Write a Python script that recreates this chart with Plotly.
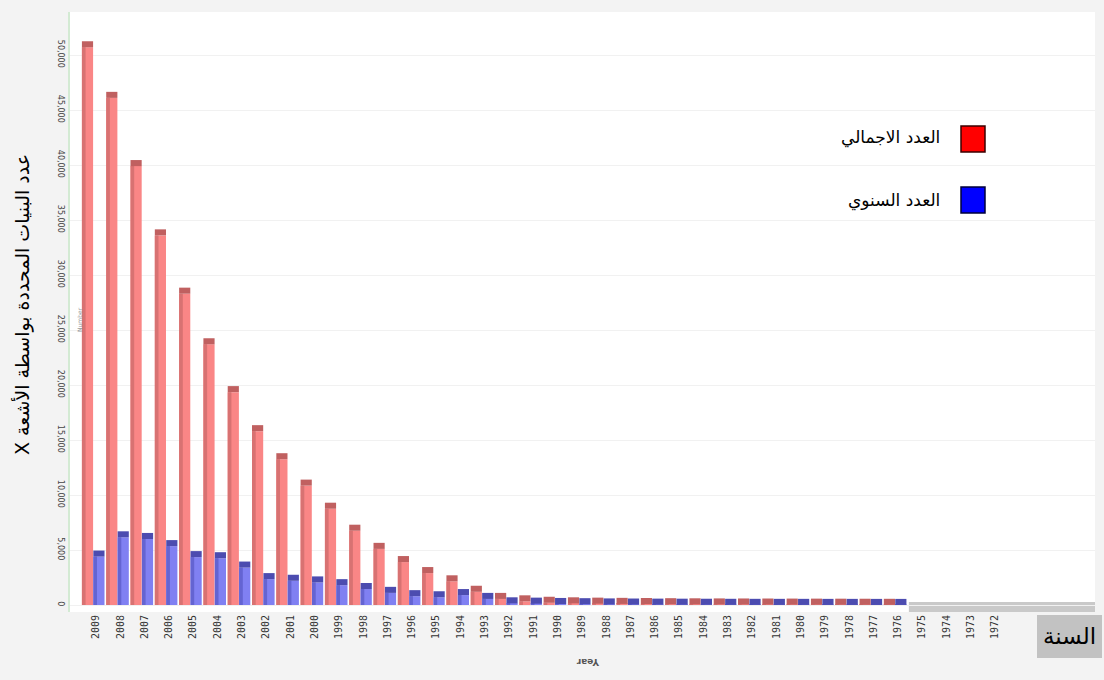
import plotly.graph_objects as go

# Protein structures solved by X-ray crystallography, per year (newest first)
years = ["2009", "2008", "2007", "2006", "2005", "2004", "2003", "2002", "2001", "2000",
         "1999", "1998", "1997", "1996", "1995", "1994", "1993", "1992", "1991", "1990",
         "1989", "1988", "1987", "1986", "1985", "1984", "1983", "1982", "1981", "1980",
         "1979", "1978", "1977", "1976", "1975", "1974", "1973", "1972"]

# cumulative total (red)
total_count = [50700, 46100, 39900, 33600, 28300, 23700, 19350, 15800, 13250, 10850,
               8750, 6750, 5100, 3900, 2900, 2150, 1200, 550, 330, 200,
               150, 120, 100, 85, 70, 60, 50, 45, 40, 35,
               30, 25, 20, 15, 0, 0, 0, 0]

# structures added in that year (blue)
annual_count = [4400, 6150, 6000, 5350, 4350, 4250, 3400, 2350, 2200, 2050,
                1800, 1450, 1100, 800, 700, 900, 550, 150, 120, 90,
                70, 50, 40, 30, 25, 20, 15, 12, 10, 10,
                8, 8, 6, 5, 0, 0, 0, 0]

y_ticks = [0, 5000, 10000, 15000, 20000, 25000, 30000, 35000, 40000, 45000, 50000]

legend_total = "العدد الاجمالي"
legend_annual = "العدد السنوي"
# right-to-left embedding so the Latin "X" ends the line on the left
y_title = "\u202bعدد البنيات المحددة بواسطة الأشعة X\u202c"
x_title = "السنة"

CAP = 550  # depth of the darker bar top, in axis units
ARABIC = "DejaVu Sans"

fig = go.Figure()


def add_series(values, offset, width, face, side, top, name):
    # front face
    fig.add_bar(x=years, y=values, offset=offset, width=width, name=name,
                marker=dict(color=face, line=dict(width=0)), showlegend=False)
    # darker left side of each bar
    fig.add_bar(x=years, y=values, offset=offset, width=width * 0.33,
                marker=dict(color=side, line=dict(width=0)),
                showlegend=False, hoverinfo="skip")
    # darker cap sitting on top of each bar
    caps = [CAP if v > 0 else 0 for v in values]
    fig.add_bar(x=years, y=caps, base=values, offset=offset, width=width,
                marker=dict(color=top, line=dict(width=0)),
                showlegend=False, hoverinfo="skip")


add_series(total_count, -0.58, 0.46, "#fa8686", "#d87272", "#c06060", legend_total)
add_series(annual_count, -0.11, 0.46, "#8080f2", "#6464d2", "#4c4cb0", legend_annual)


def px_x(p):
    return (p - 70) / 1025


def px_y(p):
    return (612 - p) / 600


shapes = [
    # floor strip to the right of the last bars
    dict(type="rect", xref="x", yref="y", x0=33.45, x1=41.11, y0=-636, y1=280,
         fillcolor="#c9c9c9", line=dict(width=0), layer="below"),
    # legend swatches
    dict(type="rect", xref="paper", yref="paper",
         x0=px_x(961), x1=px_x(985), y0=px_y(152), y1=px_y(126),
         fillcolor="#ff0000", line=dict(color="#3a0000", width=1.5)),
    dict(type="rect", xref="paper", yref="paper",
         x0=px_x(961), x1=px_x(985), y0=px_y(213), y1=px_y(187),
         fillcolor="#0000ff", line=dict(color="#00003a", width=1.5)),
    # box behind the x-axis title
    dict(type="rect", xref="paper", yref="paper",
         x0=px_x(1037), x1=px_x(1102), y0=px_y(658), y1=px_y(615),
         fillcolor="#c2c2c2", line=dict(width=0)),
]

annotations = [
    dict(text=legend_total, xref="paper", yref="paper", x=px_x(942), y=px_y(138),
         xanchor="right", yanchor="middle", showarrow=False,
         font=dict(family=ARABIC, size=17, color="#000")),
    dict(text=legend_annual, xref="paper", yref="paper", x=px_x(942), y=px_y(201),
         xanchor="right", yanchor="middle", showarrow=False,
         font=dict(family=ARABIC, size=17, color="#000")),
    dict(text=y_title, xref="paper", yref="paper", x=px_x(22), y=px_y(305),
         xanchor="center", yanchor="middle", textangle=-90, showarrow=False,
         font=dict(family=ARABIC, size=19, color="#000")),
    dict(text=x_title, xref="paper", yref="paper", x=px_x(1069), y=px_y(636),
         xanchor="center", yanchor="middle", showarrow=False,
         font=dict(family=ARABIC, size=23, color="#000")),
    dict(text="Number", xref="paper", yref="paper", x=px_x(79), y=px_y(320),
         xanchor="center", yanchor="middle", textangle=-90, showarrow=False,
         font=dict(family="DejaVu Sans", size=6, color="#999")),
    dict(text="<b>Year</b>", xref="paper", yref="paper", x=px_x(588), y=px_y(662),
         xanchor="center", yanchor="middle", textangle=180, showarrow=False,
         font=dict(family="DejaVu Sans", size=9, color="#555")),
]

fig.update_layout(
    width=1104, height=680,
    margin=dict(l=70, r=9, t=12, b=68),
    paper_bgcolor="#f3f3f3",
    plot_bgcolor="#ffffff",
    barmode="overlay",
    showlegend=False,
    shapes=shapes,
    annotations=annotations,
    xaxis=dict(type="category", categoryorder="array", categoryarray=years,
               range=[-1.07, 41.11], tickangle=-90, showgrid=False,
               showline=False, zeroline=False, ticks="",
               tickfont=dict(family="DejaVu Sans Mono", size=10, color="#333")),
    yaxis=dict(range=[-636, 53909], tickvals=y_ticks, tickformat=",",
               tickangle=90, showgrid=True, gridcolor="#f1f1f1",
               zeroline=False, showline=True, linecolor="#d3ead3", linewidth=2,
               ticks="", tickfont=dict(family="DejaVu Sans", size=8, color="#444")),
)

fig.write_html("out.html")
